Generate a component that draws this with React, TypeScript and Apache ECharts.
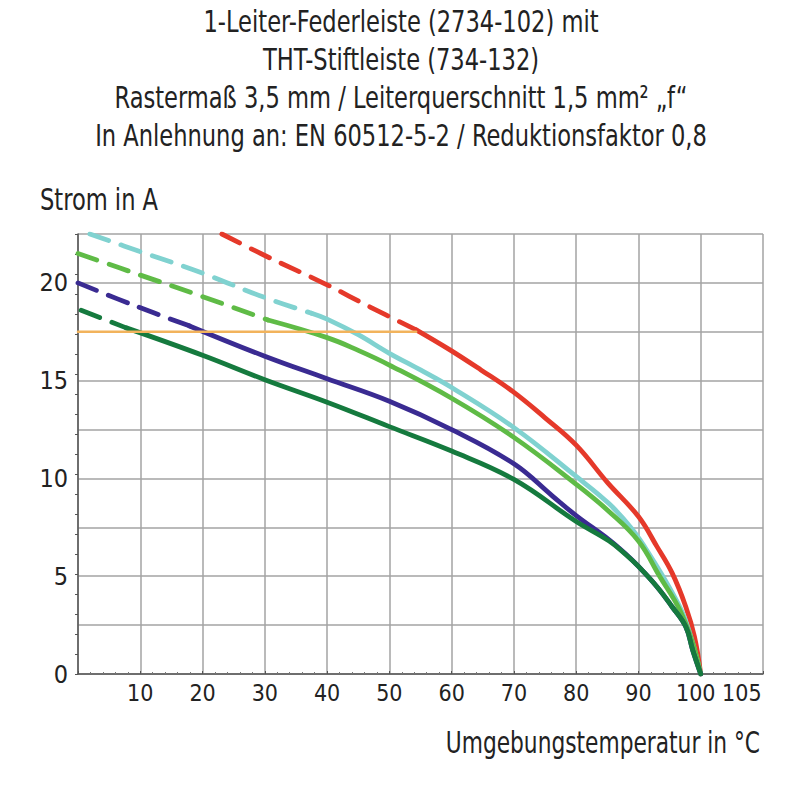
import React, { useEffect, useRef } from "react";
import * as echarts from "echarts";

const FONT = "'Liberation Sans Narrow', 'DejaVu Sans Condensed', 'Roboto Condensed', 'Arial Narrow', sans-serif";

const titleLines = [
  "1-Leiter-Federleiste (2734-102) mit",
  "THT-Stiftleiste (734-132)",
  "Rastermaß 3,5 mm / Leiterquerschnitt 1,5 mm² „f“",
  "In Anlehnung an: EN 60512-5-2 / Reduktionsfaktor 0,8",
];
const yAxisTitle = "Strom in A";
const xAxisTitle = "Umgebungstemperatur in °C";

// x-axis label values and texts (the original prints "105" just left of the right edge)
const xLabelValues = [10, 20, 30, 40, 50, 60, 70, 80, 90, 100, 106.6];
const xLabelTexts = ["10", "20", "30", "40", "50", "60", "70", "80", "90", "100", "105"];
const yTickLabels: Record<number, string> = { 0: "0", 5: "5", 10: "10", 15: "15", 20: "20" };

// Curves: [temperature °C, current A]
const redDashed = [[23.1, 22.5], [30, 21.4], [40, 19.9], [47, 18.75], [54.3, 17.6]];
const redSolid = [[54.3, 17.6], [59.6, 16.6], [64.7, 15.55], [69.8, 14.45], [75, 13.1], [80, 11.7], [85, 9.8], [90, 8.05], [93, 6.5], [95.4, 5.17], [97.6, 3.44], [99, 1.9], [100, 0]];

const cyanDashed = [[1.9, 22.5], [10, 21.6], [20, 20.5], [30, 19.25], [37.5, 18.45]];
const cyanSolid = [[37.5, 18.45], [40, 18.15], [45, 17.35], [50, 16.4], [55, 15.55], [60, 14.65], [70, 12.6], [80, 10.1], [85.3, 8.7], [89, 7.4], [92, 6.0], [95, 4.4], [97.5, 2.8], [100, 0]];

const greenDashed = [[0, 21.5], [10, 20.4], [20, 19.3], [30.5, 18.1]];
const greenSolid = [[30.5, 18.1], [40, 17.2], [45, 16.55], [50, 15.8], [60, 14.1], [70, 12.1], [80, 9.7], [85.3, 8.3], [90, 6.8], [93.4, 5.0], [96.6, 3.3], [98.7, 1.6], [100, 0]];

const blueDashed = [[0, 20.0], [9.4, 18.8], [17.9, 17.8]];
const blueSolid = [[17.9, 17.8], [30, 16.25], [40, 15.1], [50, 13.95], [60, 12.5], [70, 10.75], [76.2, 9.1], [80, 8.1], [85.3, 6.86], [88, 6.12], [90, 5.5], [93, 4.45], [95.4, 3.44], [97.6, 2.42], [98.7, 1.23], [100, 0]];

const darkDashed = [[0.5, 18.6], [7.75, 17.7]];
const darkSolid = [[7.75, 17.7], [20, 16.3], [30, 15.05], [40, 13.9], [50, 12.65], [60, 11.4], [70, 9.95], [80, 7.8], [85.3, 6.8], [88, 6.1], [90, 5.5], [93, 4.45], [95.4, 3.44], [97.6, 2.42], [98.7, 1.23], [100, 0]];

const limitLine = [[0, 17.5], [54.3, 17.5]];

const COLORS = {
  red: "#e5392a",
  cyan: "#80d2d0",
  green: "#5fbb46",
  blue: "#3a2b92",
  dark: "#157a3e",
  orange: "#f2b35c",
};

const DASH = [20, 13];

function line(name: string, data: number[][], color: string, dashed: boolean, z: number, width = 4.8) {
  return {
    name,
    type: "line",
    data,
    showSymbol: false,
    symbol: "none",
    smooth: 0.4,
    z,
    lineStyle: {
      color,
      width,
      type: dashed ? DASH : "solid",
      cap: "round",
      join: "round",
    },
  };
}

function txt(text: string, x: number, y: number, align: string, size: number, sx: number) {
  return {
    type: "text",
    x,
    y,
    scaleX: sx,
    style: {
      text,
      fontFamily: FONT,
      fontSize: size,
      fill: "#222",
      align,
      verticalAlign: "middle",
    },
  };
}

export default function App() {
  const ref = useRef<HTMLDivElement>(null);
  useEffect(() => {
    if (!ref.current) return;
    const chart = echarts.init(ref.current, null, { renderer: "svg" });
    chart.setOption({
      animation: false,
      backgroundColor: "#ffffff",
      graphic: [
        txt(titleLines[0], 401, 22, "center", 31, 0.81),
        txt(titleLines[1], 401, 60, "center", 31, 0.81),
        txt(titleLines[2], 401, 98, "center", 31, 0.81),
        txt(titleLines[3], 401, 136, "center", 31, 0.81),
        txt(yAxisTitle, 40, 200, "left", 31, 0.81),
        txt(xAxisTitle, 760, 742, "right", 31, 0.78),
      ],
      grid: { left: 78, right: 37, top: 234, bottom: 126, containLabel: false },
      xAxis: {
        type: "value",
        min: 0,
        max: 110,
        interval: 10,
        axisLine: { show: true, onZero: false, lineStyle: { color: "#555", width: 1.5 } },
        axisTick: { show: true, inside: true, length: 3, lineStyle: { color: "#555" } },
        minorTick: { show: true, splitNumber: 5, length: 2, lineStyle: { color: "#777" } },
        splitLine: { show: true, lineStyle: { color: "#a3a3a3", width: 1.5 } },
        axisLabel: {
          fontFamily: FONT,
          fontSize: 23,
          color: "#222",
          margin: 7,
          hideOverlap: false,
          customValues: xLabelValues,
          rich: {
            l: { fontFamily: FONT, fontSize: 23, color: "#222", padding: [0, 10, 0, 0] },
          },
          formatter: (v: number) => {
            const i = xLabelValues.findIndex((x) => Math.abs(x - v) < 1e-6);
            if (i < 0) return "";
            return v === 100 ? `{l|${xLabelTexts[i]}}` : xLabelTexts[i];
          },
        },
      },
      yAxis: [
        {
          type: "value",
          min: 0,
          max: 22.5,
          interval: 2.5,
          axisLine: { show: true, onZero: false, lineStyle: { color: "#555", width: 1.5 } },
          axisTick: { show: false },
          splitLine: { show: true, lineStyle: { color: "#a3a3a3", width: 1.5 } },
          axisLabel: {
            fontFamily: FONT,
            fontSize: 25,
            color: "#222",
            margin: 10,
            formatter: (v: number) => yTickLabels[v] ?? "",
          },
        },
        {
          type: "value",
          min: 0,
          max: 22,
          interval: 1,
          position: "left",
          axisLine: { show: false },
          axisTick: { show: true, length: 3, lineStyle: { color: "#555" } },
          splitLine: { show: false },
          axisLabel: { show: false },
        },
      ],
      series: [
        line("red-dashed", redDashed, COLORS.red, true, 2),
        line("red", redSolid, COLORS.red, false, 2),
        line("cyan-dashed", cyanDashed, COLORS.cyan, true, 3),
        line("cyan", cyanSolid, COLORS.cyan, false, 3),
        line("green-dashed", greenDashed, COLORS.green, true, 4),
        line("green", greenSolid, COLORS.green, false, 4),
        line("blue-dashed", blueDashed, COLORS.blue, true, 5),
        line("blue", blueSolid, COLORS.blue, false, 5),
        line("dark-dashed", darkDashed, COLORS.dark, true, 6),
        line("dark", darkSolid, COLORS.dark, false, 6),
        { ...line("limit", limitLine, COLORS.orange, false, 7, 2.5), smooth: false },
      ],
    });
    return () => chart.dispose();
  }, []);
  return <div ref={ref} style={{ width: 800, height: 800, marginLeft: -8, marginTop: -8 }} />;
}
